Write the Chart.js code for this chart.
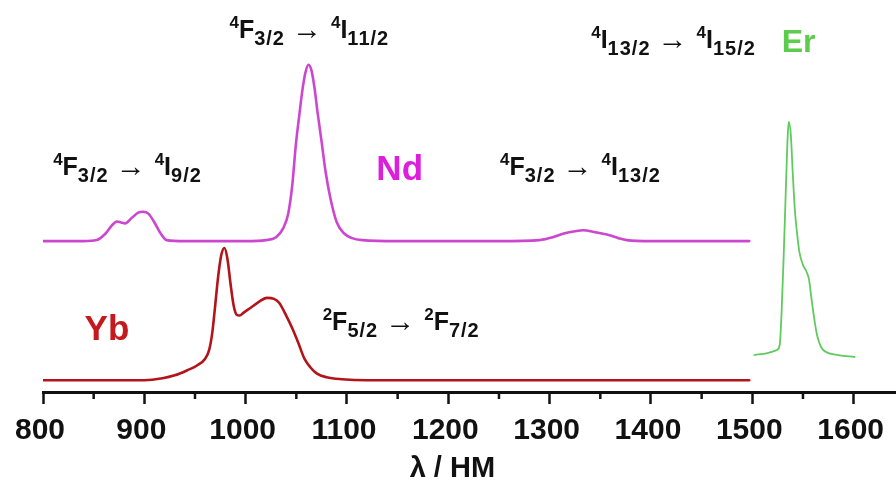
<!DOCTYPE html>
<html>
<head>
<meta charset="utf-8">
<script src="https://cdn.jsdelivr.net/npm/chart.js@4.4.1/dist/chart.umd.min.js"></script>
<style>
  html, body { margin: 0; padding: 0; background: #fff; }
  #wrap { width: 896px; height: 481px; position: relative; }
</style>
</head>
<body>
<div id="wrap"><canvas id="spectra"></canvas></div>
<script>
// Nd emission, 4F3/2 -> 4I9/2, 4I11/2, 4I13/2
const ndWavelength = [800, 840, 853, 862, 868, 873, 877, 881, 888, 894, 899, 904, 910, 916, 922, 940,
  1000, 1020, 1030, 1037, 1042, 1046, 1049.5, 1053, 1056, 1059, 1062, 1065, 1068, 1071, 1075, 1079,
  1084, 1090, 1097, 1105, 1115, 1150, 1250, 1290, 1303, 1315, 1325, 1333, 1345, 1359, 1368, 1376, 1400, 1497];
const ndIntensity = [0, 0, 0.01, 0.08, 0.16, 0.20, 0.19, 0.18, 0.24, 0.29, 0.30, 0.28, 0.19, 0.08, 0.01, 0,
  0, 0.01, 0.04, 0.13, 0.28, 0.57, 0.98, 1.29, 1.54, 1.72, 1.80, 1.74, 1.56, 1.31, 1.01, 0.70,
  0.42, 0.19, 0.08, 0.03, 0.01, 0, 0, 0.01, 0.04, 0.08, 0.10, 0.11, 0.09, 0.06, 0.03, 0.01, 0, 0];
const ndOffset = 1.54;

// Yb emission, 2F5/2 -> 2F7/2
const ybWavelength = [800, 900, 918, 930, 942, 952, 960, 964, 967, 970, 973, 976, 979, 982, 985, 988,
  991, 994, 998, 1005, 1013, 1021, 1028, 1033, 1040, 1046, 1052, 1058, 1064, 1070, 1080, 1095, 1120, 1497];
const ybIntensity = [0, 0, 0.02, 0.05, 0.10, 0.15, 0.22, 0.31, 0.48, 0.77, 1.07, 1.28, 1.35, 1.24, 0.99, 0.77,
  0.67, 0.66, 0.69, 0.74, 0.80, 0.84, 0.83, 0.79, 0.66, 0.53, 0.38, 0.22, 0.13, 0.07, 0.03, 0.01, 0, 0];
const ybOffset = 0.12;

// Er emission, 4I13/2 -> 4I15/2
const erWavelength = [1502, 1515, 1524, 1527, 1529, 1531, 1533, 1535, 1536, 1538, 1540, 1542, 1544, 1546.5,
  1550, 1553.5, 1556, 1558, 1561, 1564, 1568, 1573, 1585, 1601];
const erIntensity = [0.02, 0.04, 0.07, 0.12, 0.48, 1.04, 1.68, 2.27, 2.40, 2.27, 1.86, 1.50, 1.28, 1.07,
  0.94, 0.87, 0.79, 0.63, 0.40, 0.22, 0.10, 0.05, 0.02, 0];
const erOffset = 0.357;

const xMin = 800;
const xMax = 1641;
const majorStep = 100;
const minorTicks = [850, 950, 1050, 1150, 1250, 1350, 1450, 1550];

const axisTitle = "λ / НМ";

// transition labels: [x (nm), y (a.u.), parts]
const transitions = [
  [810, 2.21, [["4", "sup"], ["F", "main"], ["3/2", "sub"], ["→", "arrow"], ["4", "sup"], ["I", "main"], ["9/2", "sub"]]],
  [984, 3.61, [["4", "sup"], ["F", "main"], ["3/2", "sub"], ["→", "arrow"], ["4", "sup"], ["I", "main"], ["11/2", "sub"]]],
  [1251, 2.21, [["4", "sup"], ["F", "main"], ["3/2", "sub"], ["→", "arrow"], ["4", "sup"], ["I", "main"], ["13/2", "sub"]]],
  [1341, 3.51, [["4", "sup"], ["I", "main"], ["13/2", "sub"], ["→", "arrow"], ["4", "sup"], ["I", "main"], ["15/2", "sub"]]],
  [1076, 0.63, [["2", "sup"], ["F", "main"], ["5/2", "sub"], ["→", "arrow"], ["2", "sup"], ["F", "main"], ["7/2", "sub"]]]
];

// element names: [text, x (nm), y (a.u.), colour, size]
const elements = [
  ["Nd", 1129, 2.16, "#dd1fdd", 35],
  ["Yb", 841, 0.53, "#c41a1e", 35],
  ["Er", 1529, 3.47, "#5ccc4c", 32]
];

function toPoints(xs, ys, offset) {
  return xs.map((x, i) => ({ x: x, y: ys[i] + offset }));
}

const FAMILY = '"Liberation Sans", Arial, sans-serif';

function drawRich(ctx, x, y, parts) {
  ctx.textBaseline = "alphabetic";
  ctx.textAlign = "left";
  let cx = x;
  parts.forEach(([txt, kind]) => {
    ctx.letterSpacing = "0px";
    let dy = 0;
    if (kind === "main") {
      ctx.font = "bold 25px " + FAMILY;
    } else if (kind === "sup") {
      ctx.font = "bold 17px " + FAMILY;
      dy = -10;
    } else if (kind === "sub") {
      ctx.font = "bold 20px " + FAMILY;
      ctx.letterSpacing = "1px";
      dy = 7;
    } else {
      ctx.font = "30px " + FAMILY;
      cx += 7;
      dy = 1;
    }
    ctx.fillText(txt, cx, y + dy);
    cx += ctx.measureText(txt).width;
    if (kind === "arrow") cx += 9;
  });
  ctx.letterSpacing = "0px";
}

const labelsPlugin = {
  id: "labels",
  afterDraw(chart) {
    const ctx = chart.ctx;
    const xs = chart.scales.x;
    const ys = chart.scales.y;
    ctx.save();

    // minor ticks
    ctx.strokeStyle = "#111";
    ctx.lineWidth = 2.5;
    minorTicks.forEach(v => {
      const px = xs.getPixelForValue(v);
      ctx.beginPath();
      ctx.moveTo(px, ys.bottom);
      ctx.lineTo(px, ys.bottom + 7);
      ctx.stroke();
    });

    ctx.fillStyle = "#111";
    transitions.forEach(([x, y, parts]) => {
      drawRich(ctx, xs.getPixelForValue(x), ys.getPixelForValue(y), parts);
    });

    elements.forEach(([txt, x, y, col, size]) => {
      ctx.font = "bold " + size + "px " + FAMILY;
      ctx.fillStyle = col;
      ctx.textAlign = "left";
      ctx.textBaseline = "alphabetic";
      ctx.fillText(txt, xs.getPixelForValue(x), ys.getPixelForValue(y));
    });

    // axis title
    ctx.font = "bold 29px " + FAMILY;
    ctx.fillStyle = "#111";
    ctx.textAlign = "center";
    ctx.fillText(axisTitle, xs.getPixelForValue(1204), ys.bottom + 85);
    ctx.restore();
  }
};

const ctx = document.getElementById("spectra").getContext("2d");
new Chart(ctx, {
  type: "line",
  data: {
    datasets: [
      {
        label: "Nd",
        data: toPoints(ndWavelength, ndIntensity, ndOffset),
        borderColor: "#cc46d0",
        borderWidth: 2.6
      },
      {
        label: "Yb",
        data: toPoints(ybWavelength, ybIntensity, ybOffset),
        borderColor: "#b3141a",
        borderWidth: 2.6
      },
      {
        label: "Er",
        data: toPoints(erWavelength, erIntensity, erOffset),
        borderColor: "#5fcb5f",
        borderWidth: 1.8
      }
    ]
  },
  options: {
    responsive: true,
    maintainAspectRatio: false,
    animation: false,
    layout: { padding: { left: 43, right: 0, top: 0, bottom: 0 } },
    elements: {
      point: { radius: 0 },
      line: { tension: 0.4, cubicInterpolationMode: "monotone", borderJoinStyle: "round", borderCapStyle: "round" }
    },
    plugins: {
      legend: { display: false },
      tooltip: { enabled: false }
    },
    scales: {
      x: {
        type: "linear",
        min: xMin,
        max: xMax,
        border: { color: "#111", width: 3 },
        grid: { drawOnChartArea: false, drawTicks: true, tickLength: 12, tickWidth: 2.5, tickColor: "#111" },
        ticks: {
          stepSize: majorStep,
          includeBounds: false,
          autoSkip: false,
          maxRotation: 0,
          padding: 9,
          labelOffset: -3,
          color: "#111",
          font: { family: FAMILY, size: 30, weight: "bold" },
          callback: v => String(v)
        },
        afterFit(scale) { scale.height = 89; }
      },
      y: {
        display: false,
        min: 0,
        max: 4
      }
    }
  },
  plugins: [labelsPlugin]
});
</script>
</body>
</html>
